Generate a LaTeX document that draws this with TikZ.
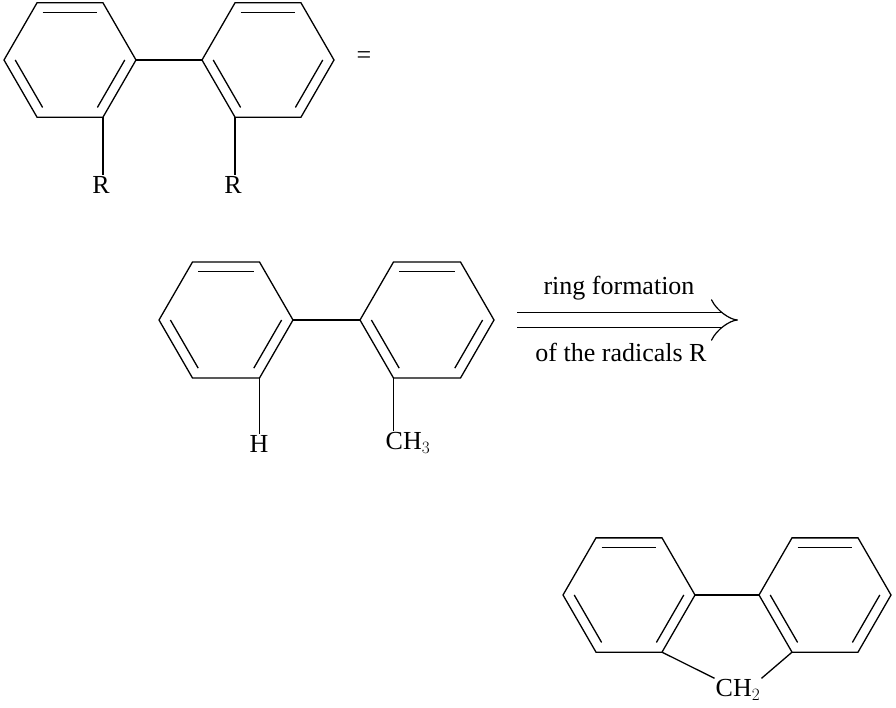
\documentclass[tikz,border=0pt]{standalone}
\usepackage{fontspec}
\setmainfont{Liberation Serif}
\usetikzlibrary{calc,arrows.meta}
\newcommand\ring[4]{%
 \foreach \i/\a in {1/-120,2/-60,3/0,4/60,5/120,6/180}{\coordinate (#1\i) at ($(#2,#3)+(\a:#4)$);}
 \coordinate (#1c) at (#2,#3);
 \draw[bond] (#11)--(#12)--(#13)--(#14)--(#15)--(#16)--cycle;
 \draw[bond] ($(#11)!0.17!(#1c)$)--($(#12)!0.17!(#1c)$);
 \draw[bond] ($(#13)!0.17!(#1c)$)--($(#14)!0.17!(#1c)$);
 \draw[bond] ($(#15)!0.17!(#1c)$)--($(#16)!0.17!(#1c)$);}
\begin{document}
\begin{tikzpicture}[x=1pt,y=-1pt,bond/.style={line width=1.3pt},
 lab/.style={font=\fontsize{26}{30}\selectfont,inner sep=1pt}]
\useasboundingbox (0,0) rectangle (896,707);
\ring{a}{70}{60}{66}
\ring{b}{268}{60}{66}
\draw[bond] (a3)--(b6);
\node[lab] (r1) at (101,185) {R};
\node[lab] (r2) at (233,185) {R};
\draw[bond] (a4)--(a4 |- r1.north);
\draw[bond] (b5)--(b5 |- r2.north);
\node[lab] (eq) at (364,58) {=};
\ring{c}{226}{320}{67}
\ring{d}{427}{320}{67}
\draw[bond] (c3)--(d6);
\node[lab] (h) at (259,444) {H};
\node[lab] (ch3) at (408,443) {CH$_3$};
\draw[bond] (c4)--(c4 |- h.north);
\draw[bond] (d5)--(ch3.north -| d5);
\coordinate (s) at (517,320);
\coordinate (e) at (738,320);
\draw[line width=1.2pt,double,double distance=14pt,-{Implies[length=10pt]}] (s)--(e);
\node[lab] (t1) at (619,288) {ring formation};
\node[lab] (t2) at (621,352) {of the radicals R};
\ring{f}{629}{595}{66}
\ring{g}{825}{595}{66}
\draw[bond] (f3)--(g6);
\node[lab] (ch2) at (738,690) {CH$_2$};
\draw[bond] (f4)--(ch2.north west);
\draw[bond] (g5)--(ch2.north east);
\end{tikzpicture}
\end{document}
